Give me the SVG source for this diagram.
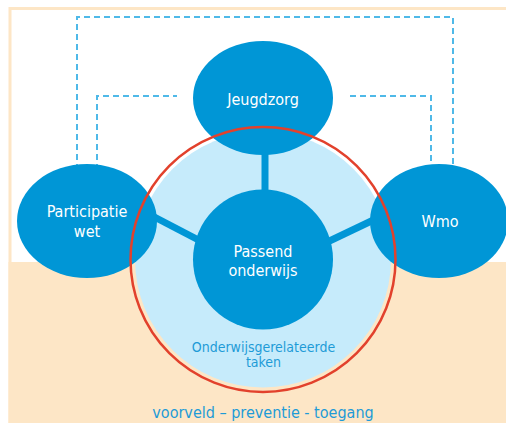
<svg xmlns="http://www.w3.org/2000/svg" width="506" height="423" viewBox="0 0 506 423">
<style>
.node{fill:#0096D6}
.lbl{font-family:"DejaVu Sans Condensed","DejaVu Sans",sans-serif;font-size:16px;fill:#FFFFFF;text-anchor:middle}
.sub{font-family:"DejaVu Sans Condensed","DejaVu Sans",sans-serif;font-size:14px;fill:#1E9BD7;text-anchor:middle}
.foot{font-family:"DejaVu Sans Condensed","DejaVu Sans",sans-serif;font-size:16px;fill:#1E9BD7;text-anchor:middle}
.dash{fill:none;stroke:#4FB9E8;stroke-width:2;stroke-dasharray:6 4}
.bar{stroke:#0096D6;stroke-width:7;fill:none}
</style>
<rect x="0" y="0" width="506" height="423" fill="#FFFFFF"/>
<g id="background">
<rect x="10" y="8.5" width="500" height="420" fill="#FFFFFF" stroke="#FDE6C6" stroke-width="3"/>
<rect x="8.5" y="262" width="500" height="165" fill="#FDE6C6"/>
</g>
<g id="connectors-dashed">
<path class="dash" d="M77,170 V17 H453 V170"/>
<path class="dash" d="M97,170 V96 H177"/>
<path class="dash" d="M350,96 H431 V170"/>
</g>
<g id="onderwijsgerelateerde-taken">
<circle cx="263" cy="259.5" r="128" fill="#C6EBFB"/>
<text class="sub" x="263.5" y="352">Onderwijsgerelateerde</text>
<text class="sub" x="263.5" y="367">taken</text>
</g>
<g id="connectors">
<line class="bar" x1="265" y1="140" x2="265" y2="200"/>
<line class="bar" x1="140" y1="209.5" x2="210" y2="246"/>
<line class="bar" x1="320" y1="245.5" x2="385" y2="214.5"/>
</g>
<g id="jeugdzorg">
<ellipse class="node" cx="263" cy="98" rx="70" ry="57"/>
<text class="lbl" x="263" y="105">Jeugdzorg</text>
</g>
<g id="participatiewet">
<ellipse class="node" cx="87" cy="221" rx="70" ry="57"/>
<text class="lbl" x="87" y="217">Participatie</text>
<text class="lbl" x="87" y="237">wet</text>
</g>
<g id="wmo">
<ellipse class="node" cx="439" cy="221" rx="69" ry="57"/>
<text class="lbl" x="440" y="227">Wmo</text>
</g>
<g id="ring">
<circle cx="263" cy="259.5" r="132.5" fill="none" stroke="#E2412C" stroke-width="2.5"/>
</g>
<g id="passend-onderwijs">
<circle class="node" cx="263" cy="259.5" r="70"/>
<text class="lbl" x="263" y="257">Passend</text>
<text class="lbl" x="263" y="276">onderwijs</text>
</g>
<g id="footer">
<text class="foot" x="263" y="418">voorveld – preventie - toegang</text>
</g>
</svg>
